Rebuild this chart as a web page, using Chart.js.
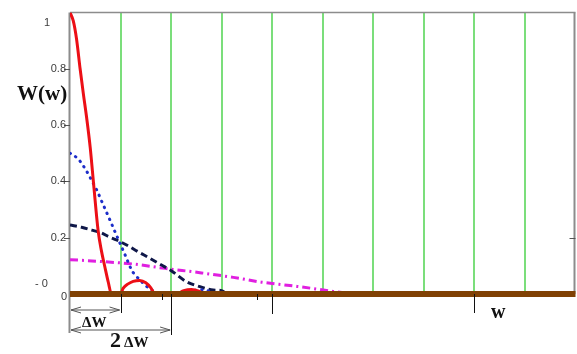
<!DOCTYPE html>
<html>
<head>
<meta charset="utf-8">
<script src="https://cdn.jsdelivr.net/npm/chart.js@4"></script>
<style>
  html, body { margin: 0; padding: 0; background: #fff; }
  canvas { display: block; }
</style>
</head>
<body>
<canvas id="spectrum" width="577" height="354"></canvas>
<script>
// W(w) for four pulse widths, sampled along w (grid step = Δw)
const wRed = [0, 0.065, 0.13, 0.2, 0.265, 0.33, 0.4, 0.47, 0.555, 0.62, 0.69, 0.76, 0.82, 1.0, 1.05, 1.15, 1.25, 1.38, 1.5, 1.6, 1.68, 2.1, 2.25, 2.4, 2.55, 2.65];
const vRed = [1.0, 0.97, 0.905, 0.8, 0.71, 0.625, 0.52, 0.385, 0.227, 0.155, 0.096, 0.04, 0, 0, 0.02, 0.036, 0.045, 0.048, 0.04, 0.022, 0, 0, 0.012, 0.016, 0.01, 0];

const wBlue = [0, 0.16, 0.3, 0.395, 0.53, 0.63, 0.79, 0.89, 0.99, 1.09, 1.22, 1.29, 1.385, 1.48, 1.57, 1.62, 1.7, 2.3, 2.45, 2.6, 2.75, 2.85];
const vBlue = [0.5, 0.48, 0.445, 0.415, 0.369, 0.328, 0.263, 0.221, 0.18, 0.139, 0.085, 0.067, 0.05, 0.032, 0.02, 0.014, 0, 0, 0.012, 0.015, 0.01, 0];

const wNavy = [0, 0.23, 0.43, 0.63, 0.76, 0.92, 1.12, 1.35, 1.58, 1.81, 2.01, 2.3, 2.57, 2.83, 3.0, 3.1];
const vNavy = [0.245, 0.237, 0.227, 0.216, 0.204, 0.192, 0.174, 0.15, 0.127, 0.103, 0.082, 0.044, 0.026, 0.014, 0.012, 0];

const wPink = [0, 0.56, 1.22, 1.88, 2.6, 3.23, 3.79, 4.35, 4.91, 5.2, 5.5, 5.7];
const vPink = [0.122, 0.116, 0.107, 0.091, 0.075, 0.059, 0.042, 0.03, 0.017, 0.009, 0.003, 0];

// the w axis itself, drawn as a thick trace at W = 0
const wAxis = [0, 10];
const vAxis = [0, 0];

// vertical grid at multiples of Δw
const gridW = [1, 2, 3, 4, 5, 6, 7, 8, 9];
const yTickValues = [1, 0.8, 0.6, 0.4, 0.2, 0];
const yTickText = ['1', '0.8', '0.6', '0.4', '0.2', '0'];

const pts = (ws, vs) => ws.map((w, i) => ({ x: w, y: vs[i] }));

function seg(ctx, x1, y1, x2, y2) {
  ctx.beginPath();
  ctx.moveTo(x1, y1);
  ctx.lineTo(x2, y2);
  ctx.stroke();
}

// open arrow from x1 to x2 at height y, heads at both ends
function span(ctx, x1, x2, y) {
  seg(ctx, x1, y, x2, y);
  seg(ctx, x1, y, x1 + 10, y - 3);
  seg(ctx, x1, y, x1 + 10, y + 3);
  seg(ctx, x2, y, x2 - 10, y - 3);
  seg(ctx, x2, y, x2 - 10, y + 3);
}

const frame = {
  id: 'frame',
  beforeDatasetsDraw(chart) {
    const { ctx, chartArea: a, scales: { x } } = chart;
    ctx.save();
    ctx.strokeStyle = '#5ad65a';
    ctx.lineWidth = 1.6;
    gridW.forEach(w => {
      const px = Math.round(x.getPixelForValue(w));
      seg(ctx, px, a.top, px, a.bottom);
    });
    ctx.strokeStyle = '#8c8c8c';
    ctx.lineWidth = 1.5;
    seg(ctx, a.left, a.top, a.right, a.top);
    ctx.lineWidth = 2;
    seg(ctx, a.right - 1, a.top, a.right - 1, a.bottom);
    seg(ctx, a.left - 0.5, a.top, a.left - 0.5, 333);
    ctx.restore();
  },
  afterDatasetsDraw(chart) {
    const { ctx, chartArea: a, scales: { x, y } } = chart;
    ctx.save();

    // y ticks and labels
    ctx.strokeStyle = '#555';
    ctx.lineWidth = 1;
    [0.8, 0.6, 0.4, 0.2].forEach(v => {
      const py = Math.round(y.getPixelForValue(v)) + 0.5;
      seg(ctx, a.left - 6, py, a.left, py);
    });
    const p2 = Math.round(y.getPixelForValue(0.2)) + 0.5;
    seg(ctx, a.right - 6, p2, a.right, p2);

    ctx.fillStyle = '#3c3c3c';
    ctx.font = '11px "Liberation Sans", Arial, sans-serif';
    ctx.textBaseline = 'middle';
    yTickValues.forEach((v, i) => {
      let py = y.getPixelForValue(v);
      ctx.textAlign = 'right';
      let px = a.left - 4;
      if (v === 1) { ctx.textAlign = 'center'; px = 47; py += 10; }
      if (v === 0) { px = a.left - 3; py += 3; }
      ctx.fillText(yTickText[i], px, py);
    });
    ctx.textAlign = 'left';
    ctx.fillText('- 0', 35, y.getPixelForValue(0) - 10);

    // marks below the w axis
    ctx.strokeStyle = '#111';
    const mark = (w, to) => {
      const px = Math.round(x.getPixelForValue(w)) + 0.5;
      seg(ctx, px, a.bottom, px, to);
    };
    mark(1, 313);
    mark(2, 335);
    mark(4, 314);
    mark(8, 313);
    mark(1.82, 300);
    mark(3.7, 300);

    // Δw and 2Δw spans
    ctx.strokeStyle = '#555';
    span(ctx, a.left + 1, x.getPixelForValue(1) - 1, 310);
    span(ctx, a.left + 1, x.getPixelForValue(2) - 1, 330);

    ctx.fillStyle = '#111';
    ctx.textBaseline = 'alphabetic';
    ctx.font = 'bold 15px "Liberation Serif", "Times New Roman", serif';
    ctx.fillText('ΔW', 82, 327);
    ctx.font = 'bold 22px "Liberation Serif", "Times New Roman", serif';
    ctx.fillText('2', 110, 347);
    ctx.font = 'bold 15px "Liberation Serif", "Times New Roman", serif';
    ctx.fillText('ΔW', 124, 347);

    // axis names
    ctx.font = 'bold 21px "Liberation Serif", "Times New Roman", serif';
    ctx.fillText('W(w)', 17, 100);
    ctx.font = 'bold 20px "Liberation Serif", "Times New Roman", serif';
    ctx.fillText('w', 491, 318);

    ctx.restore();
  }
};

new Chart(document.getElementById('spectrum'), {
  type: 'line',
  data: {
    datasets: [
      {
        data: pts(wAxis, vAxis),
        borderColor: '#804104',
        borderWidth: 6,
        clip: false,
        order: 0
      },
      {
        data: pts(wRed, vRed),
        borderColor: '#ec0f16',
        borderWidth: 3,
        cubicInterpolationMode: 'monotone',
        order: 1
      },
      {
        data: pts(wBlue, vBlue),
        borderColor: '#1d2ec9',
        borderWidth: 3,
        borderCapStyle: 'round',
        borderDash: [0.5, 6],
        cubicInterpolationMode: 'monotone',
        order: 2
      },
      {
        data: pts(wNavy, vNavy),
        borderColor: '#0f1748',
        borderWidth: 3,
        borderDash: [7, 4],
        cubicInterpolationMode: 'monotone',
        order: 3
      },
      {
        data: pts(wPink, vPink),
        borderColor: '#e01fe0',
        borderWidth: 3,
        borderDash: [8, 4, 2, 4],
        cubicInterpolationMode: 'monotone',
        order: 4
      }
    ]
  },
  options: {
    responsive: false,
    animation: false,
    devicePixelRatio: 1,
    layout: { padding: { left: 70, right: 1.5, top: 12.5, bottom: 60 } },
    elements: { point: { radius: 0 } },
    plugins: { legend: { display: false }, tooltip: { enabled: false } },
    scales: {
      x: { type: 'linear', min: 0, max: 10, display: false },
      y: { type: 'linear', min: 0, max: 1, display: false }
    }
  },
  plugins: [frame]
});
</script>
</body>
</html>
